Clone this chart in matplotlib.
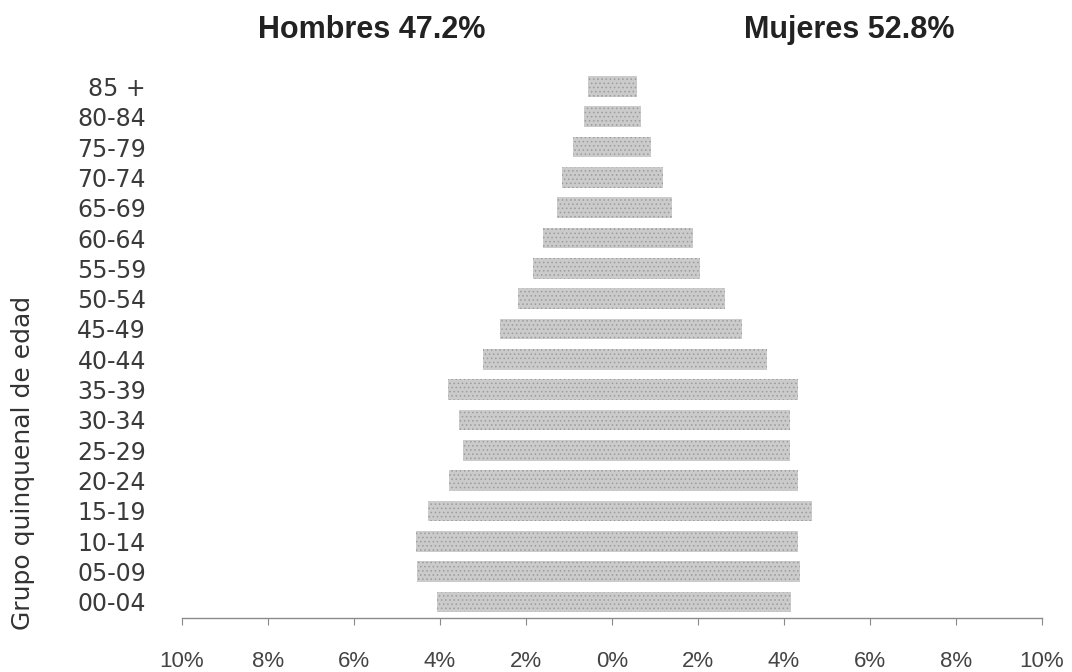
import matplotlib
matplotlib.use("Agg")
import matplotlib.pyplot as plt
import numpy as np

# age groups, bottom to top
grupos = ['00-04', '05-09', '10-14', '15-19', '20-24', '25-29', '30-34',
          '35-39', '40-44', '45-49', '50-54', '55-59', '60-64', '65-69',
          '70-74', '75-79', '80-84', '85 +']

# percent of total population
hombres = [4.07, 4.53, 4.56, 4.27, 3.78, 3.46, 3.57, 3.81, 3.00, 2.60,
           2.19, 1.84, 1.60, 1.28, 1.16, 0.91, 0.65, 0.56]
mujeres = [4.16, 4.37, 4.33, 4.65, 4.32, 4.14, 4.14, 4.33, 3.60, 3.02,
           2.63, 2.05, 1.88, 1.40, 1.19, 0.91, 0.67, 0.58]

xticks = [-10, -8, -6, -4, -2, 0, 2, 4, 6, 8, 10]
xticklabels = ['10%', '8%', '6%', '4%', '2%', '0%', '2%', '4%', '6%', '8%', '10%']

titulo_h = 'Hombres 47.2%'
titulo_m = 'Mujeres 52.8%'
ylabel = 'Grupo quinquenal de edad'

plt.rcParams['hatch.linewidth'] = 0.6

fig = plt.figure(figsize=(10.72, 6.72), dpi=100)
ax = fig.add_axes([0.1698, 0.0804, 0.972 - 0.1698, 0.894 - 0.0804])

y = np.arange(len(grupos))
h = np.array(hombres)
m = np.array(mujeres)

# one bar per side, gray dithered look
ax.barh(y, -h, height=0.68, color='#cbcbcb', edgecolor='#9c9c9c',
        hatch='....', linewidth=0)
ax.barh(y, m, height=0.68, color='#cbcbcb', edgecolor='#9c9c9c',
        hatch='....', linewidth=0)

ax.set_xlim(-10, 10)
ax.set_ylim(-0.53, len(grupos) - 0.5)

ax.set_xticks(xticks)
ax.set_xticklabels(xticklabels, fontsize=16, color='#444444',
                   family='Liberation Sans')
ax.set_yticks(y)
ax.set_yticklabels(grupos, fontsize=17, color='#3a3a3a')

ax.tick_params(axis='x', length=5, width=0.8, color='#8a8a8a', pad=19)
ax.tick_params(axis='y', length=0, pad=26)

for s in ['left', 'right', 'top']:
    ax.spines[s].set_visible(False)
ax.spines['bottom'].set_color('#8a8a8a')
ax.spines['bottom'].set_linewidth(1.0)

# titles above each side
fig.text(372 / 1072, 1 - 30 / 672, titulo_h, ha='center', va='center',
         fontsize=22, fontweight='bold', color='#222222',
         family='Liberation Sans')
fig.text(849 / 1072, 1 - 30 / 672, titulo_m, ha='center', va='center',
         fontsize=22, fontweight='bold', color='#222222',
         family='Liberation Sans')

fig.text(23 / 1072, 1 - 463 / 672, ylabel, rotation=90, ha='center',
         va='center', fontsize=18, color='#333333')

fig.savefig('out.png', dpi=100)
